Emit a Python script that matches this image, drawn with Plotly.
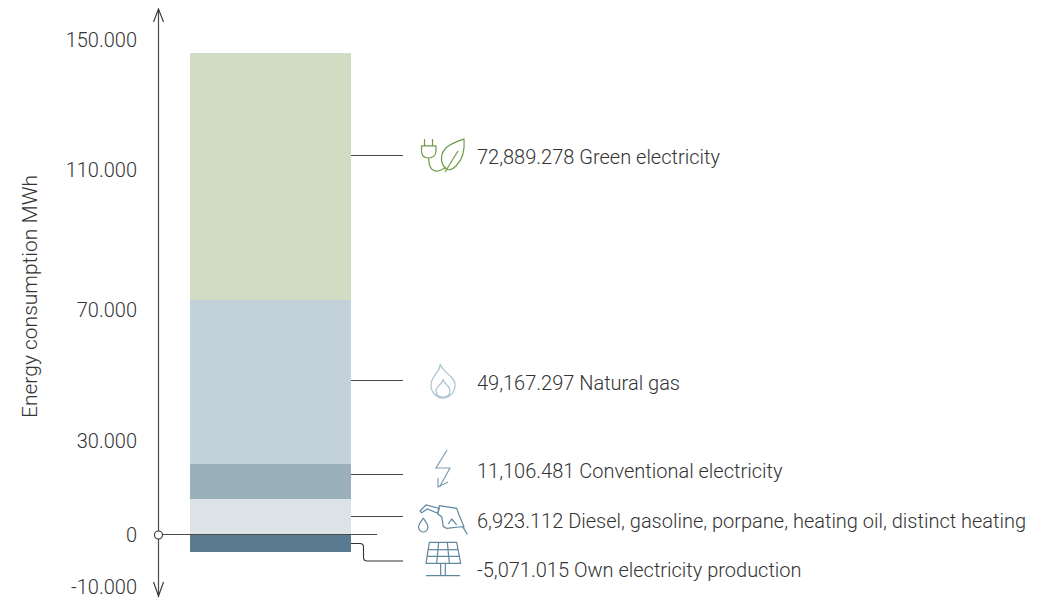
import plotly.graph_objects as go

# --- data ---
categories = ["Diesel, gasoline, porpane, heating oil, distinct heating",
              "Conventional electricity", "Natural gas", "Green electricity",
              "Own electricity production"]
value_labels = ["6,923.112", "11,106.481", "49,167.297", "72,889.278", "-5,071.015"]
# segment heights as drawn against the chart's axis
drawn_heights = [10900, 10600, 49700, 74850, -5150]
bar_colors = ["#dce3e6", "#9ab1bc", "#c3d2da", "#d2dcc2", "#5a7a90"]
tick_positions = [150000, 110600, 68200, 28500, 0, -15750]
tick_labels = ["150.000", "110.000", "70.000", "30.000", "0", "-10.000"]
axis_title = "Energy consumption MWh"

W, H = 1040, 598
ZERO_PX, PX_PER_UNIT = 535, 0.0033
TEXT = "#333333"
FONT = "Roboto"


def px(x, y):
    return f"{x:.2f},{1 - y / H:.4f}"


def path(pts, close=False):
    d = "M" + " L".join(f"{x:.2f},{1 - y / H:.4f}" for x, y in pts)
    return d + (" Z" if close else "")


def pshape(d, color, width=1.2, fill=None):
    s = dict(type="path", path=d, xref="x", yref="paper",
             line=dict(color=color, width=width), layer="above")
    if fill:
        s["fillcolor"] = fill
    return s


fig = go.Figure()
for name, h, c_ in zip(categories, drawn_heights, bar_colors):
    fig.add_bar(x=[270.5], y=[h], width=[161], name=name,
                marker=dict(color=c_, line=dict(width=0)), showlegend=False,
                hoverinfo="skip")

shapes = []
GREY = "#4a4a4a"
# axis arrows
shapes.append(pshape(path([(158.5, 9), (158.5, 597)]), GREY, 1.2))
shapes.append(pshape(path([(153.5, 22), (158.5, 9), (163.5, 22)]), "#333333", 1.1))
shapes.append(pshape(path([(153.5, 582), (158.5, 596), (163.5, 582)]), "#333333", 1.1))
# zero line and leaders
shapes.append(pshape(path([(158.5, 534.5), (377, 534.5)]), GREY, 1.1))
for y in (155.5, 380.5, 474.5, 516.5):
    shapes.append(pshape(path([(351, y), (403, y)]), GREY, 1.1))
shapes.append(pshape(
    f"M351,{1-543.5/H:.4f} L360,{1-543.5/H:.4f} Q363.5,{1-543.5/H:.4f} 363.5,{1-547/H:.4f} "
    f"L363.5,{1-557/H:.4f} Q363.5,{1-561/H:.4f} 367,{1-561/H:.4f} L403,{1-561/H:.4f}",
    "#333333", 1.1))


def c(*pts):
    """cubic bezier chain in pixels: one C command per three points"""
    out = []
    for i in range(0, len(pts), 3):
        out.append("C" + " ".join(px(x, y) for x, y in pts[i:i + 3]))
    return " ".join(out)


# plug + leaf
G = "#6f9a48"
for xp in (424.5, 432.5):
    shapes.append(pshape(path([(xp, 139), (xp, 146)]), G))
shapes.append(pshape("M" + px(421.5, 146) + " L" + px(436, 146) + " L" + px(436, 151) + " " +
                     c((436, 156), (432, 158), (428.7, 158), (425, 158), (421.5, 156), (421.5, 151)) + " Z", G))
shapes.append(pshape("M" + px(428.7, 158) + " " + c((428.7, 166), (431, 171), (437, 171), (440, 171), (442, 170), (446, 167)), G))
shapes.append(pshape("M" + px(445, 168) + " " + c((440, 162), (440, 153), (447, 147), (452, 143), (458, 141), (464, 139)) +
                     " " + c((465, 150), (463, 159), (456, 166), (452, 170), (448, 171), (445, 168)), G))
shapes.append(pshape(path([(445, 172), (458, 151)]), G))

# flame
F = "#a9c3cf"
shapes.append(pshape("M" + px(440, 364) + " " + c((441, 372), (431, 375), (431, 385), (431, 393), (437, 398), (443, 398)) +
                     " " + c((450, 398), (455, 392), (455, 385), (455, 376), (444, 374), (440, 364)), F))
shapes.append(pshape("M" + px(443, 379) + " " + c((443, 384), (436, 386), (436, 391), (436, 395), (439, 397), (443, 397)) +
                     " " + c((447, 397), (450, 395), (450, 391), (450, 386), (444, 384), (443, 379)), F))

# bolt
B = "#7f9fb0"
shapes.append(pshape(path([(447, 450), (436, 468), (450, 468), (439.5, 487)]), B))
shapes.append(pshape(path([(438, 478), (438, 487), (448, 482)]), B))


# nozzle (pixels of a 3x crop at 340,495)
def z(pts):
    return [(340 + x / 3, 495 + y / 3) for x, y in pts]


N = "#5f88a0"
shapes.append(pshape(path(z([(240, 48), (258, 30), (298, 40), (293, 55), (262, 42), (245, 53)]), True), N))
shapes.append(pshape(path(z([(298, 32), (350, 40), (358, 62), (372, 95), (358, 96), (320, 100), (310, 95), (305, 65), (293, 57)]), True), N))
shapes.append(pshape(path(z([(325, 87), (335, 72), (350, 90)])), N))
shapes.append(pshape(path(z([(368, 95), (382, 118)])), N))
shapes.append(pshape("M" + px(423.3, 518) + " " +
                     c((421, 522), (418.5, 524), (418.5, 527), (418.5, 530), (421, 532), (423.3, 532)) + " " +
                     c((425.6, 532), (428, 530), (428, 527), (428, 524), (425.6, 522), (423.3, 518)), N))
# solar panel
shapes.append(pshape(path(z([(268, 142), (350, 142), (362, 205), (258, 205)]), True), N))
shapes.append(pshape(path(z([(264, 164), (354, 164)])), N))
shapes.append(pshape(path(z([(261, 184), (358, 184)])), N))
shapes.append(pshape(path(z([(296, 142), (290, 205)])), N))
shapes.append(pshape(path(z([(322, 142), (328, 205)])), N))
shapes.append(pshape(path(z([(302, 205), (302, 242)])), N))
shapes.append(pshape(path(z([(316, 205), (316, 242)])), N))
shapes.append(pshape(path(z([(258, 242), (360, 242)])), N))
# zero marker
shapes.append(dict(type="circle", xref="x", yref="paper", x0=154.5, x1=162.5,
                   y0=1 - 539 / H, y1=1 - 531 / H, fillcolor="white",
                   line=dict(color="#333333", width=1.1), layer="above"))

annotations = [dict(x=30, y=1 - 297 / H, xref="x", yref="paper", text=axis_title, textangle=-90,
                    showarrow=False, font=dict(family=FONT, size=21, color=TEXT, weight=300))]
label_y = [521, 471, 383, 157, 570]
for yy, val, cat in zip(label_y, value_labels, categories):
    annotations.append(dict(x=475, y=1 - yy / H, xref="x", yref="paper", xanchor="left", yanchor="middle",
                            text=f"{val} {cat}", showarrow=False,
                            font=dict(family=FONT, size=20, color=TEXT, weight=300)))

fig.update_layout(
    width=W, height=H, autosize=False, barmode="relative", bargap=0,
    margin=dict(l=0, r=0, t=0, b=0), plot_bgcolor="white", paper_bgcolor="white",
    xaxis=dict(range=[0, W], visible=False, fixedrange=True),
    yaxis=dict(range=[(ZERO_PX - H) / PX_PER_UNIT, ZERO_PX / PX_PER_UNIT],
               anchor="free", position=158 / W, tickmode="array",
               tickvals=tick_positions, ticktext=tick_labels, showgrid=False,
               zeroline=False, showline=False, ticks="", ticklabelstandoff=21,
               ticklabeloverflow="allow",
               tickfont=dict(family=FONT, size=20, color=TEXT, weight=300)),
    shapes=shapes, annotations=annotations, showlegend=False,
)
fig.write_html("out.html", config=dict(displayModeBar=False),
               post_script="document.body.style.margin='0';document.body.style.overflow='hidden';")
